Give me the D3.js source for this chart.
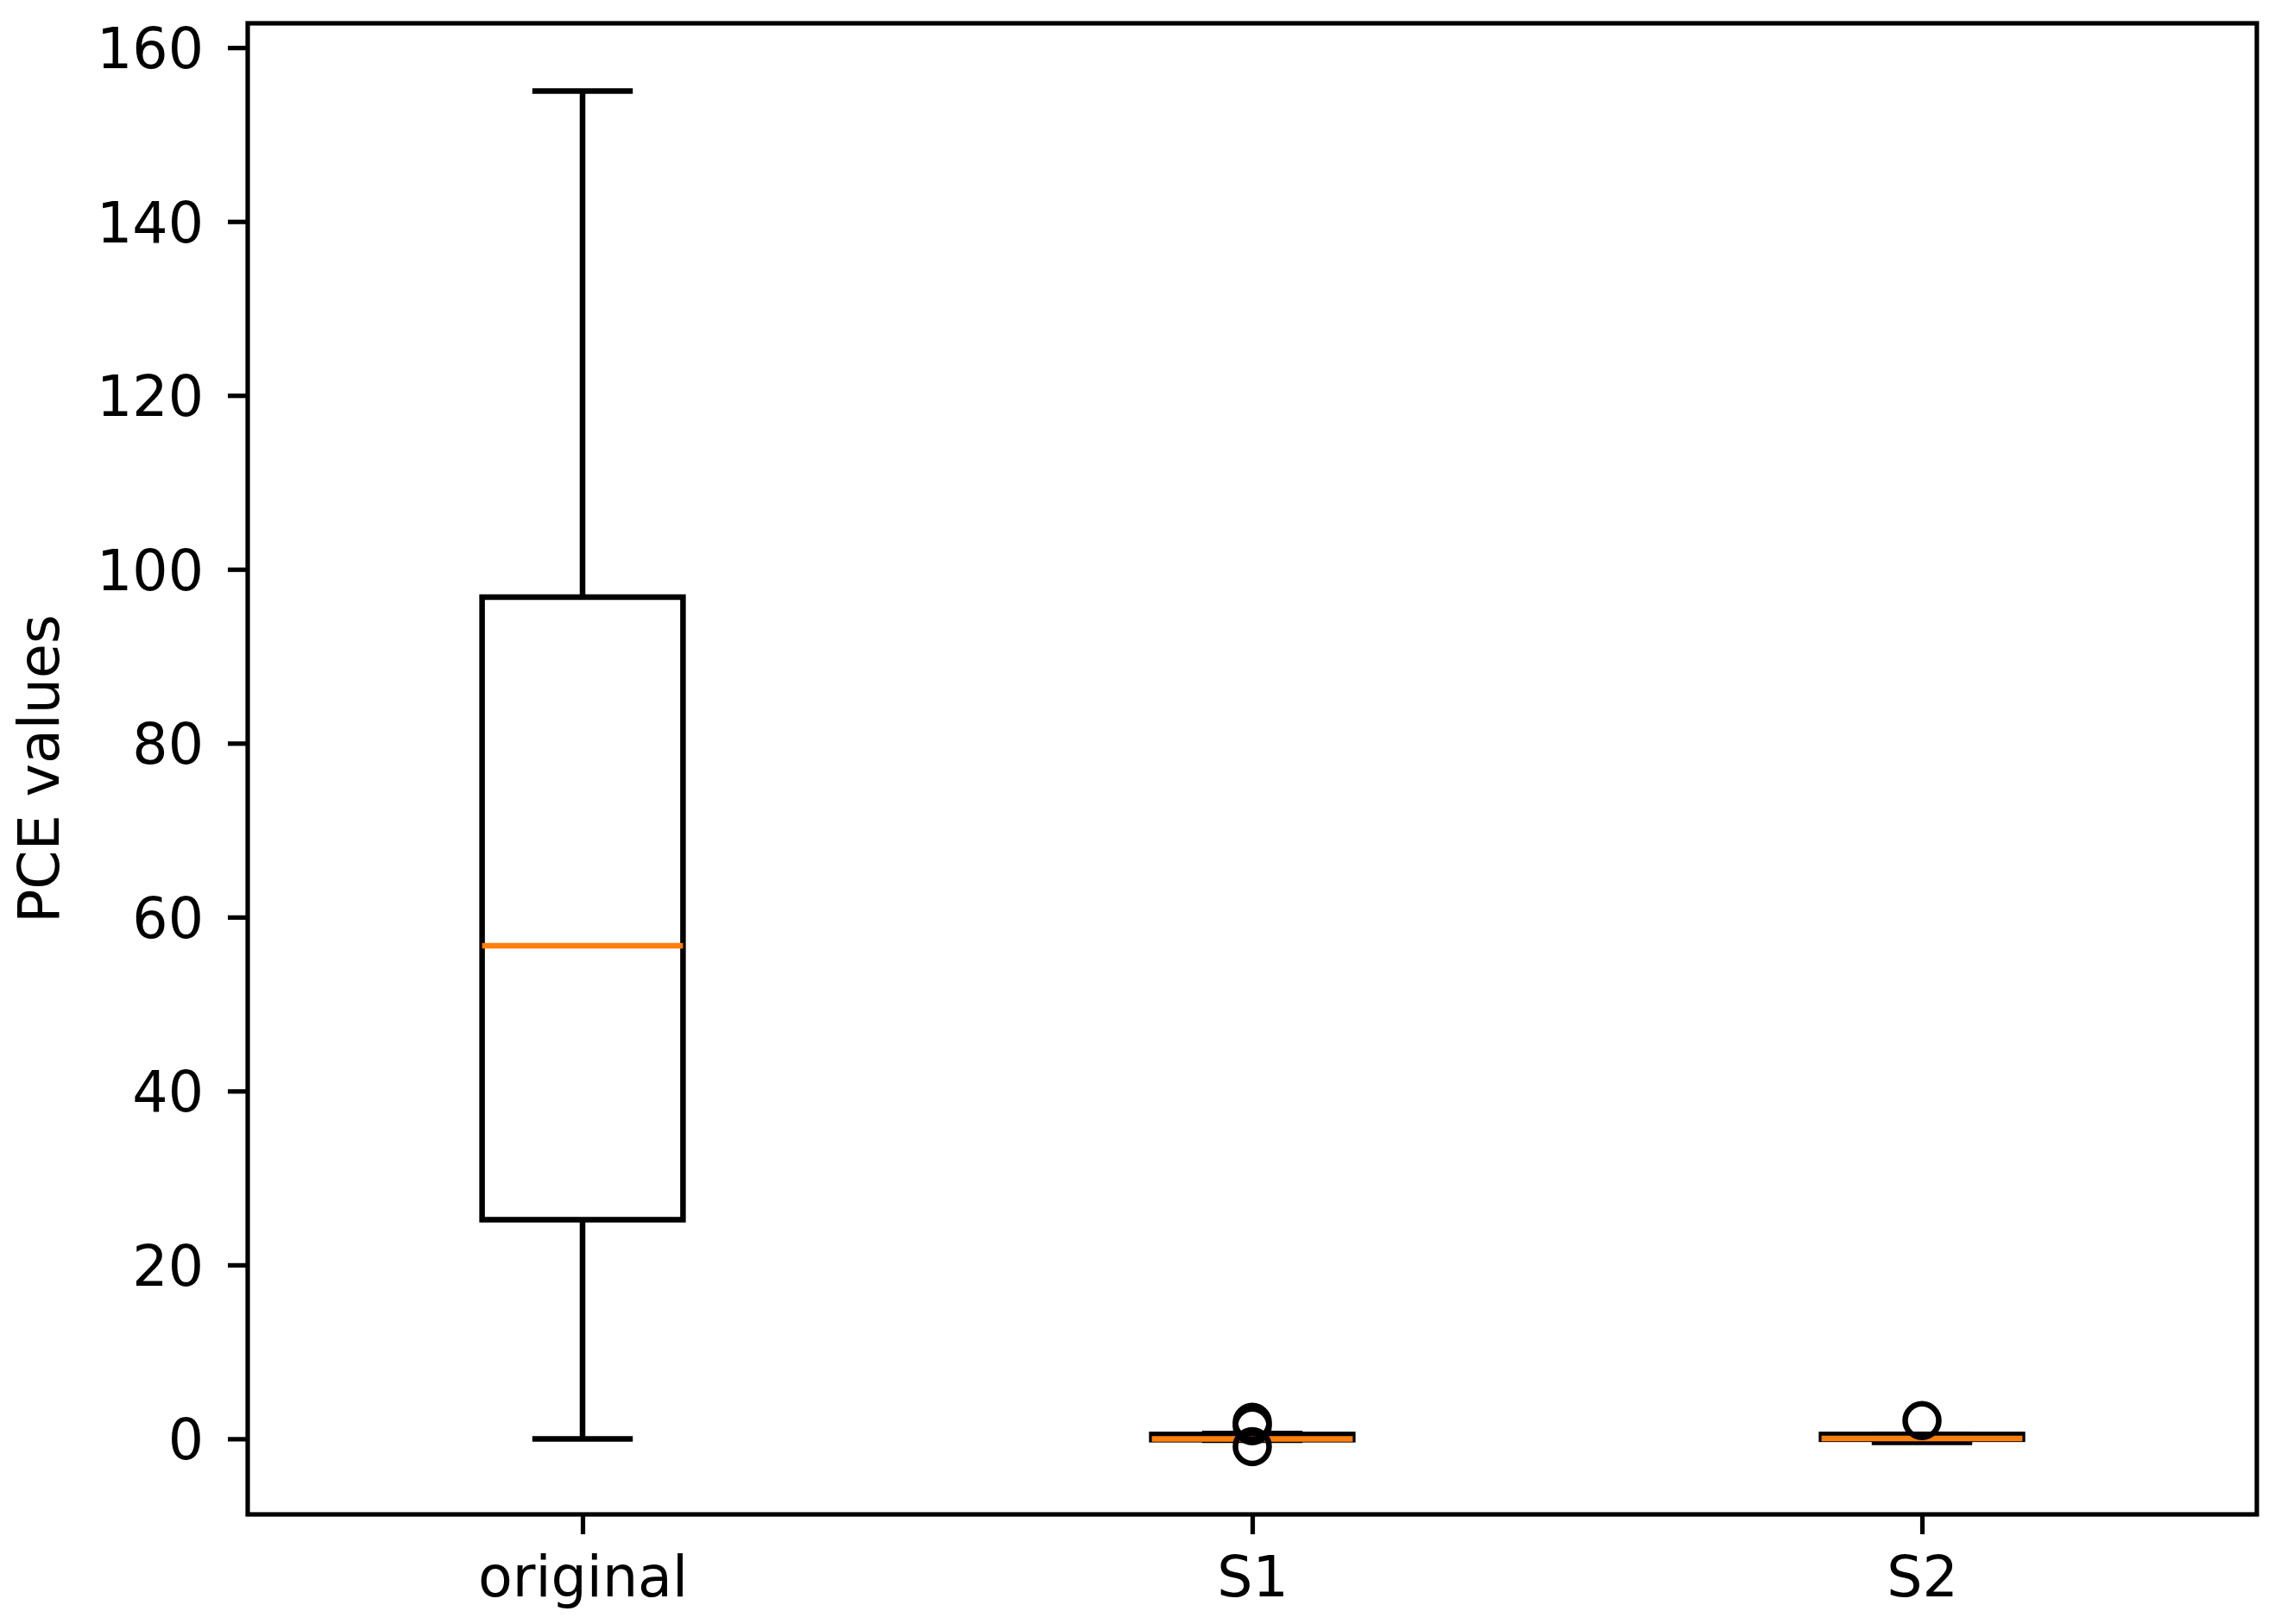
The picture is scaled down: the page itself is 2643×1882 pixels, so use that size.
<!DOCTYPE html>
<html>
<head>
<meta charset="utf-8">
<script src="https://cdn.jsdelivr.net/npm/d3@7"></script>
<style>
  html, body { margin: 0; padding: 0; background: #fff; }
  svg { display: block; }
  text { font-family: "DejaVu Sans", sans-serif; fill: #000; }
</style>
</head>
<body>
<svg id="chart" width="2643" height="1882"></svg>
<script>
// ---- data ----
const categories = ["original", "S1", "S2"];
const whiskerLow  = [0,     -0.15, -0.4];
const q1Values    = [25.2,  -0.1,  -0.05];
const medians     = [56.7,   0.0,   0.05];
const q3Values    = [96.8,   0.5,   0.5];
const whiskerHigh = [155.0,  0.6,   0.5];
const fliers      = [[], [1.5, 1.9, -0.9], [2.1]];
const yTicks      = [0, 20, 40, 60, 80, 100, 120, 140, 160];
const yLabel      = "PCE values";

(function () {
// ---- layout ----
const mLeft = 287, mRight = 2615, mTop = 27, mBottom = 1755;
const fs = 65;              // 10pt
const lw = 6.5;             // 1pt
const spineW = 5.2;         // 0.8pt
const tickLen = 23;

const svg = d3.select("#chart");

const allVals = [].concat(whiskerLow, whiskerHigh, ...fliers);
const dMin = d3.min(allVals), dMax = d3.max(allVals);
const pad = (dMax - dMin) * 0.05;

const y = d3.scaleLinear().domain([dMin - pad, dMax + pad]).range([mBottom, mTop]);
const x = d3.scaleLinear().domain([0.5, categories.length + 0.5]).range([mLeft, mRight]);
const boxW = x(1.3) - x(1.0);   // widths 0.3
const capW = boxW / 2;

const g = svg.append("g");

const boxes = categories.map((c, i) => ({
  c, pos: i + 1,
  lo: whiskerLow[i], q1: q1Values[i], med: medians[i], q3: q3Values[i], hi: whiskerHigh[i],
  fl: fliers[i]
}));

boxes.forEach(b => {
  const cx = x(b.pos);
  const bg = g.append("g");
  bg.append("line").attr("x1", cx).attr("x2", cx).attr("y1", y(b.q1)).attr("y2", y(b.lo))
    .attr("stroke", "#000").attr("stroke-width", lw);
  bg.append("line").attr("x1", cx).attr("x2", cx).attr("y1", y(b.q3)).attr("y2", y(b.hi))
    .attr("stroke", "#000").attr("stroke-width", lw);
  [b.lo, b.hi].forEach(v => {
    bg.append("line").attr("x1", cx - capW / 2).attr("x2", cx + capW / 2)
      .attr("y1", y(v)).attr("y2", y(v))
      .attr("stroke", "#000").attr("stroke-width", lw);
  });
  bg.append("rect").attr("x", cx - boxW / 2).attr("width", boxW)
    .attr("y", y(b.q3)).attr("height", Math.max(0, y(b.q1) - y(b.q3)))
    .attr("fill", "none").attr("stroke", "#000").attr("stroke-width", lw);
  bg.append("line").attr("x1", cx - boxW / 2).attr("x2", cx + boxW / 2)
    .attr("y1", y(b.med)).attr("y2", y(b.med))
    .attr("stroke", "#ff7f0e").attr("stroke-width", lw);
  b.fl.forEach(v => {
    bg.append("circle").attr("cx", cx).attr("cy", y(v)).attr("r", 19.5)
      .attr("fill", "none").attr("stroke", "#000").attr("stroke-width", lw);
  });
});

// ---- axes ----
const yAxis = d3.axisLeft(y).tickValues(yTicks).tickSize(tickLen).tickPadding(28)
  .tickFormat(d3.format("d"));
const ya = svg.append("g").attr("transform", `translate(${mLeft},0)`).call(yAxis);
ya.select(".domain").remove();
ya.selectAll(".tick line").attr("stroke", "#000").attr("stroke-width", spineW);
ya.selectAll(".tick text").attr("font-size", fs).attr("font-family", "DejaVu Sans, sans-serif")
  .attr("dy", "0.36em").attr("fill", "#000");

const xAxis = d3.axisBottom(x).tickValues(boxes.map(b => b.pos)).tickSize(tickLen).tickPadding(26)
  .tickFormat((d, i) => categories[i]);
const xa = svg.append("g").attr("transform", `translate(0,${mBottom})`).call(xAxis);
xa.select(".domain").remove();
xa.selectAll(".tick line").attr("stroke", "#000").attr("stroke-width", spineW);
xa.selectAll(".tick text").attr("font-size", fs).attr("font-family", "DejaVu Sans, sans-serif")
  .attr("dy", "0.71em").attr("fill", "#000");

svg.append("rect").attr("x", mLeft).attr("y", mTop).attr("width", mRight - mLeft).attr("height", mBottom - mTop)
  .attr("fill", "none").attr("stroke", "#000").attr("stroke-width", spineW);

svg.append("text").attr("transform", `translate(68,${(mTop + mBottom) / 2}) rotate(-90)`)
  .attr("text-anchor", "middle").attr("font-size", fs).text(yLabel);
})();
</script>
</body>
</html>
